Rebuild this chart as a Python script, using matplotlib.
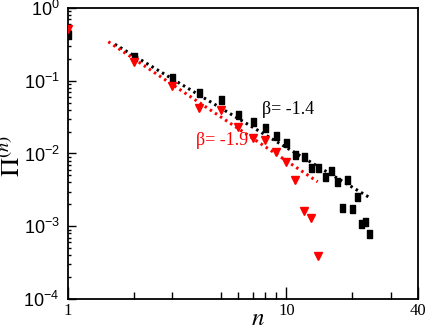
import numpy as np
import matplotlib
matplotlib.use("Agg")
import matplotlib.pyplot as plt
from matplotlib.ticker import FixedLocator, NullFormatter, LogLocator

plt.rcParams["mathtext.fontset"] = "stix"

# -> Data
n_black = [1, 2, 3, 4, 5, 6, 7, 8, 9, 10, 11, 12, 13, 14, 15, 16, 17, 18, 19, 20, 21, 22, 23, 24]
pi_black = [0.425, 0.213, 0.108, 0.067, 0.0544, 0.0338, 0.0274, 0.0222, 0.0174, 0.0141, 0.0095, 0.0090,
            0.00638, 0.00638, 0.0048, 0.00574, 0.00409, 0.0018, 0.00432, 0.00171, 0.0025, 0.00106, 0.00116, 0.00079]

n_red = [1, 2, 3, 4, 5, 6, 7, 8, 9, 10, 11, 12, 13, 14]
pi_red = [0.514, 0.183, 0.0855, 0.0427, 0.0396, 0.0233, 0.0163, 0.0153, 0.0106, 0.0077, 0.00432, 0.00164,
          0.00131, 0.00039]

# -> Fitted power-law guide lines (end points)
fit_black_n = [1.64, 23.9]
fit_black_pi = [0.317, 0.0025]
fit_red_n = [1.53, 13.9]
fit_red_pi = [0.344, 0.00409]

x_tick_vals = [1, 10, 40]
x_tick_labels = ["1", "10", "40"]
x_minor_vals = [2, 3, 5, 6, 7, 8, 9, 20, 30]

fig = plt.figure(figsize=(4.30, 3.29), dpi=100)
ax = fig.add_axes([0.158, 0.0912, 0.814, 0.8845])

rect = [(-0.6, -1), (0.6, -1), (0.6, 1), (-0.6, 1), (-0.6, -1)]

ax.plot(fit_black_n, fit_black_pi, color="black", lw=2.2, ls=(0, (0.8, 1.2)), zorder=2)
ax.plot(fit_red_n, fit_red_pi, color="red", lw=2.2, ls=(0, (0.8, 1.2)), zorder=2)
ax.plot(n_black, pi_black, ls="none", marker=rect, ms=6, color="black", zorder=3)
ax.plot(n_red, pi_red, ls="none", marker="v", ms=5.8, color="red", zorder=3)

ax.set_xscale("log")
ax.set_yscale("log")
ax.set_xlim(1, 40)
ax.set_ylim(1e-4, 1)

# -> Ticks
ax.xaxis.set_major_locator(FixedLocator(x_tick_vals))
ax.set_xticklabels(x_tick_labels, fontfamily="Liberation Serif", fontsize=12)
ax.xaxis.set_minor_locator(FixedLocator(x_minor_vals))
ax.xaxis.set_minor_formatter(NullFormatter())
ax.yaxis.set_major_locator(LogLocator(base=10, numticks=10))
ax.yaxis.set_minor_locator(LogLocator(base=10, subs=np.arange(2, 10), numticks=10))
ax.yaxis.set_minor_formatter(NullFormatter())
ax.tick_params(axis="x", which="major", direction="in", length=8.5, width=1, pad=3)
ax.tick_params(axis="x", which="minor", direction="in", length=5, width=1)
ax.tick_params(axis="y", which="major", direction="in", length=6, width=1, pad=6, labelsize=13)
ax.tick_params(axis="y", which="minor", direction="in", length=2, width=1)
for lab in ax.get_yticklabels():
    lab.set_fontfamily("Liberation Sans")

for sp in ax.spines.values():
    sp.set_linewidth(1.3)

# -> Labels
ax.set_xlabel(r"$n$", fontsize=18, va="center")
ax.xaxis.set_label_coords(0.543, -0.066)
ax.set_ylabel(r"$\Pi^{(n)}$", fontsize=19, va="center")
ax.yaxis.set_label_coords(-0.157, 0.49)

ax.text(0.555, 0.635, "β= -1.4", transform=ax.transAxes, fontfamily="Liberation Serif", fontsize=13, color="black")
ax.text(0.365, 0.53, "β= -1.9", transform=ax.transAxes, fontfamily="Liberation Serif", fontsize=13, color="red")

fig.savefig("out.png", dpi=100)
